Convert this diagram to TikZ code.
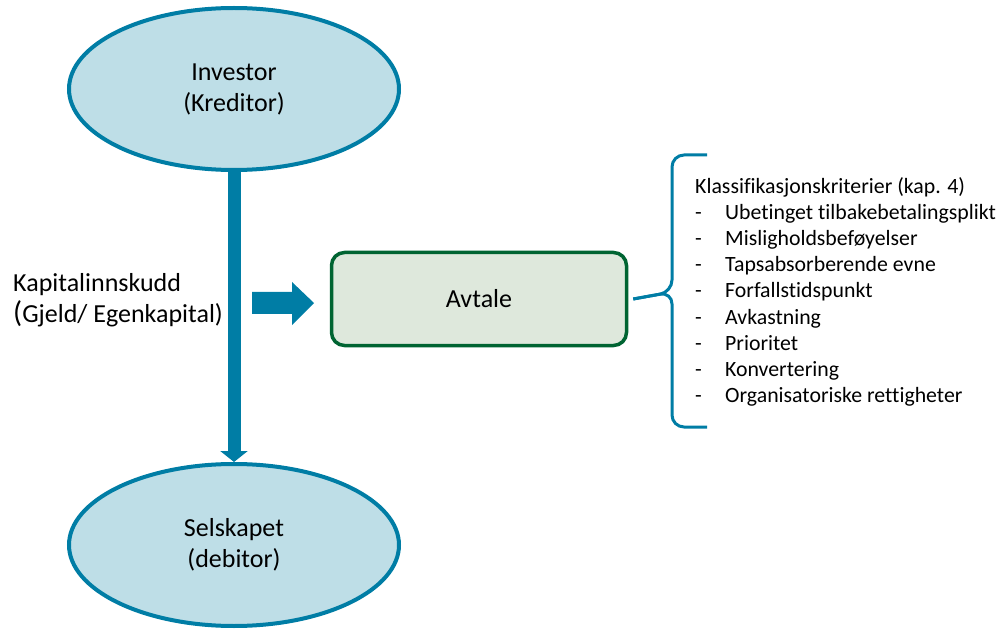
\documentclass[tikz,border=0pt]{standalone}
\usepackage{fontspec}
\setmainfont[Ligatures=NoCommon]{Carlito}
\usetikzlibrary{shapes.geometric,arrows.meta}
\definecolor{petrol}{RGB}{0,125,165}
\definecolor{paleblue}{RGB}{190,222,231}
\definecolor{palegreen}{RGB}{222,232,220}
\definecolor{darkgreen}{RGB}{0,100,50}
\tikzset{
  party/.style={ellipse, draw=petrol, line width=4pt, fill=paleblue,
    minimum width=330pt, minimum height=162pt, inner sep=0pt,
    align=center, font=\fontsize{26}{31}\selectfont},
  dealbox/.style={draw=darkgreen, line width=3.5pt, fill=palegreen,
    rounded corners=13pt, minimum width=295pt, minimum height=93pt,
    font=\fontsize{26}{31}\selectfont},
  flow/.style={petrol, line width=13pt, -{Triangle[width=27pt,length=11pt]}},
  blockarrow/.style={fill=petrol, draw=none},
  bracket/.style={petrol, line width=3pt, rounded corners=12pt},
  criteria/.style={align=left, inner sep=0pt, anchor=north west,
    font=\fontsize{21.8}{26.2}\selectfont},
}
\newcommand{\critem}[1]{\makebox[30pt][l]{-}#1}
\begin{document}
\begin{tikzpicture}[x=1pt,y=-1pt]
\useasboundingbox (0,0) rectangle (1002,631);

% the two parties
\node[party] (investor) at (234,89) {Investor\\(Kreditor)};
\node[party] (company) at (234,545) {Selskapet\\(debitor)};

% capital flowing from investor to company
\draw[flow] (investor.south) -- (company.north);

\node[anchor=west, align=left, inner sep=0pt,
      font=\fontsize{26}{31}\selectfont] (capital) at (13,300)
  {Kapitalinnskudd\\{\fontsize{30}{31}\selectfont(}Gjeld/ Egenkapital)};

% block arrow pointing at the agreement
\fill[blockarrow] (252,292) -- (292,292) -- (292,282) -- (314,303)
  -- (292,325) -- (292,314) -- (252,314) -- cycle;

% the agreement
\node[dealbox] (deal) at (479,299) {Avtale};

% curly bracket and the list of criteria
\coordinate (tip) at ([xshift=5pt]deal.east);
\draw[bracket] (tip) -- (672,292) -- (672,155) -- (707,155);
\draw[bracket] (tip) -- (672,292) -- (672,427) -- (707,427);

\node[criteria] (crit) at (695,177) {Klassifikasjonskriterier (kap. 4)\\
  \critem{Ubetinget tilbakebetalingsplikt}\\
  \critem{Misligholdsbeføyelser}\\
  \critem{Tapsabsorberende evne}\\
  \critem{Forfallstidspunkt}\\
  \critem{Avkastning}\\
  \critem{Prioritet}\\
  \critem{Konvertering}\\
  \critem{Organisatoriske rettigheter}};
\end{tikzpicture}
\end{document}
